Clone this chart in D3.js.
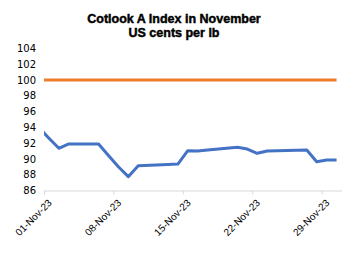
<!DOCTYPE html>
<html>
<head>
<meta charset="utf-8">
<script src="https://cdn.jsdelivr.net/npm/d3@7"></script>
<style>
  html, body { margin: 0; padding: 0; background: #fff; }
  svg { display: block; }
</style>
</head>
<body>
<div id="chart"></div>
<script>
// ---- Data ----
const titleLines = ["Cotlook A Index in November", "US cents per lb"];
const dates = [
  "2023-10-31", "2023-11-01", "2023-11-02", "2023-11-03",
  "2023-11-06", "2023-11-07", "2023-11-08", "2023-11-09", "2023-11-10",
  "2023-11-13", "2023-11-14", "2023-11-15", "2023-11-16", "2023-11-17",
  "2023-11-20", "2023-11-21", "2023-11-22", "2023-11-23", "2023-11-24",
  "2023-11-27", "2023-11-28", "2023-11-29", "2023-11-30"
];
const cotlookA = [
  93.95, 92.62, 91.34, 91.89,
  91.89, 90.42, 89.00, 87.75, 89.14,
  89.30, 89.35, 91.04, 91.00, 91.13,
  91.47, 91.25, 90.71, 91.00, 91.03,
  91.13, 89.65, 89.86, 89.86
];
const benchmark = [
  100, 100, 100, 100,
  100, 100, 100, 100, 100,
  100, 100, 100, 100, 100,
  100, 100, 100, 100, 100,
  100, 100, 100, 100
];
const yTicks = [86, 88, 90, 92, 94, 96, 98, 100, 102, 104];
const xTickDates = ["2023-11-01", "2023-11-08", "2023-11-15", "2023-11-22", "2023-11-29"];
const xDomain = ["2023-11-01", "2023-12-01"];

// ---- Layout ----
const W = 349, H = 257;
const plot = { left: 44, right: 341.5, top: 48.3, bottom: 190.5 };

const parse = d3.utcParse("%Y-%m-%d");
const noon = d => d3.utcHour.offset(parse(d), 12);

const svg = d3.select("#chart").append("svg")
  .attr("width", W).attr("height", H)
  .attr("font-family", "'Liberation Sans', Arial, sans-serif");

const x = d3.scaleUtc()
  .domain(xDomain.map(parse))
  .range([plot.left, plot.right]);
const y = d3.scaleLinear()
  .domain([86, 104])
  .range([plot.bottom, plot.top]);

// Title
svg.append("g").selectAll("text")
  .data(titleLines)
  .join("text")
  .attr("x", 174)
  .attr("y", (d, i) => 22.5 + i * 14.5)
  .attr("text-anchor", "middle")
  .attr("font-size", 12.5)
  .attr("font-weight", "bold")
  .attr("fill", "#000")
  .attr("stroke", "#000")
  .attr("stroke-width", 0.45)
  .text(d => d);

// Y axis (labels only)
const yAxis = svg.append("g")
  .attr("transform", `translate(${plot.left - 8},0)`)
  .call(d3.axisLeft(y).tickValues(yTicks).tickSize(0).tickPadding(0));
yAxis.select(".domain").remove();
yAxis.selectAll("text")
  .attr("font-size", 10)
  .attr("font-family", "'DejaVu Sans', Verdana, sans-serif")
  .attr("fill", "#000");

// X axis
const xAxis = svg.append("g")
  .attr("transform", `translate(0,${plot.bottom})`)
  .call(d3.axisBottom(x)
    .tickValues(xTickDates.map(parse))
    .tickFormat(d3.utcFormat("%d-%b-%y"))
    .tickSizeInner(4).tickSizeOuter(0));
xAxis.select(".domain").attr("stroke", "#D9D9D9").attr("stroke-width", 1.2);
xAxis.selectAll(".tick line").attr("stroke", "#D9D9D9");
xAxis.selectAll("text")
  .attr("font-size", 10)
  .attr("fill", "#000")
  .attr("text-anchor", "end")
  .attr("dy", null)
  .attr("y", 0)
  .attr("transform", "translate(8,13) rotate(-45)");

// Clip
svg.append("clipPath").attr("id", "clip")
  .append("rect")
  .attr("x", plot.left).attr("y", 0)
  .attr("width", W - plot.left).attr("height", H);

const line = d3.line()
  .x(d => x(noon(d.date)))
  .y(d => y(d.value));

const series = [
  { values: benchmark, color: "#ED7D31" },
  { values: cotlookA, color: "#4472C4" }
];

svg.append("g").attr("clip-path", "url(#clip)")
  .selectAll("path")
  .data(series)
  .join("path")
  .attr("fill", "none")
  .attr("stroke", s => s.color)
  .attr("stroke-width", 3)
  .attr("stroke-linejoin", "round")
  .attr("d", s => line(dates.map((d, i) => ({ date: d, value: s.values[i] }))));
</script>
</body>
</html>
